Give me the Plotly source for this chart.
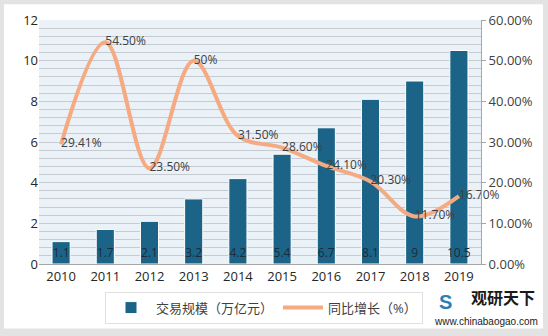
import plotly.graph_objects as go

years = ["2010", "2011", "2012", "2013", "2014", "2015", "2016", "2017", "2018", "2019"]
scale = [1.1, 1.7, 2.1, 3.2, 4.2, 5.4, 6.7, 8.1, 9, 10.5]
growth = [29.41, 54.5, 23.5, 50, 31.5, 28.6, 24.1, 20.3, 11.7, 16.7]
growth_labels = ["29.41%", "54.50%", "23.50%", "50%", "31.50%", "28.60%", "24.10%", "20.30%", "11.70%", "16.70%"]
bar_name = "交易规模（万亿元）"
line_name = "同比增长（%）"

FONT = "Open Sans, Noto Sans CJK SC, sans-serif"
W, H = 548, 336
L, R, T, B = 39, 481, 20, 266


def px(x):
    return (x - L) / (R - L)


def py(y):
    return (B - y) / (B - T)


fig = go.Figure()
# invisible helper trace to carry the fine grid axis
fig.add_trace(go.Scatter(x=[years[0]], y=[0], yaxis="y3", mode="lines",
                         line=dict(width=0), showlegend=False, hoverinfo="skip"))
fig.add_trace(go.Bar(
    x=years, y=scale, name=bar_name, width=0.41,
    marker=dict(color="#1B6487", line=dict(color="white", width=1)),
    text=[str(v) for v in scale], textposition="inside", insidetextanchor="start",
    constraintext="none",
    textfont=dict(color="#1E2B38", size=12, family=FONT), textangle=0,
    cliponaxis=False,
))
fig.add_trace(go.Scatter(
    x=years, y=growth, name=line_name, yaxis="y2", mode="lines+text",
    line=dict(color="#F5AA82", width=4, shape="spline", smoothing=1.0),
    text=growth_labels, textposition="middle right",
    textfont=dict(color="#404040", size=12, family=FONT),
    cliponaxis=False,
))

shapes = [
    dict(type="rect", xref="paper", yref="paper", x0=px(4), x1=px(543), y0=py(331), y1=py(4),
         fillcolor="white", line=dict(width=0), layer="below"),
    dict(type="rect", xref="paper", yref="paper", x0=0, x1=1, y0=0, y1=1,
         fillcolor="#EAF1F7", line=dict(width=0), layer="below"),
]

fig.update_layout(
    width=W, height=H,
    margin=dict(l=L, r=W - R, t=T, b=H - B),
    paper_bgcolor="#E3E3E3", plot_bgcolor="rgba(0,0,0,0)",
    font=dict(family=FONT, size=13, color="#404040"),
    shapes=shapes,
    xaxis=dict(range=[-0.5, 9.5], showgrid=False, showline=True, linecolor="#A6A6A6", linewidth=1,
               ticks="", tickfont=dict(size=13, color="#262626")),
    yaxis=dict(range=[0, 12], dtick=2, showgrid=False,
               zeroline=False, showline=False, ticks="", tickfont=dict(size=13, color="#262626")),
    yaxis2=dict(range=[0, 60], dtick=10, tick0=0, overlaying="y", side="right",
                showgrid=False,
                zeroline=False, showline=True, linecolor="#A6A6A6", ticks="outside",
                ticklen=4, tickcolor="#A6A6A6", ticksuffix="%", tickformat=".2f",
                tickfont=dict(size=13, color="#404040")),
    yaxis3=dict(range=[0, 60], dtick=2, tick0=0, overlaying="y", side="left",
                showgrid=True, gridcolor="#C5CBD1", gridwidth=1, showticklabels=False,
                ticks="", zeroline=False, showline=False),
    legend=dict(orientation="h", x=px(264), xanchor="center", y=py(310), yanchor="middle",
                bgcolor="white", bordercolor="#E0E0E0", borderwidth=1,
                font=dict(size=13, color="#404040"), itemwidth=40, traceorder="normal"),
    annotations=[
        dict(text="<b>观研天下</b>", xref="paper", yref="paper", x=px(537), y=py(313),
             xanchor="right", yanchor="bottom", showarrow=False,
             font=dict(size=16, color="#1a1a1a", family="Noto Sans CJK SC")),
        dict(text="www.chinabaogao.com", xref="paper", yref="paper", x=px(540), y=py(316),
             xanchor="right", yanchor="top", showarrow=False,
             font=dict(size=10, color="#1a1a1a", family="Liberation Sans")),
        dict(text="<b>S</b>", xref="paper", yref="paper", x=px(445), y=py(304),
             xanchor="center", yanchor="middle", showarrow=False,
             font=dict(size=20, color="#2A7FB8", family="Liberation Sans")),
    ],
)

fig.write_html("out.html")
